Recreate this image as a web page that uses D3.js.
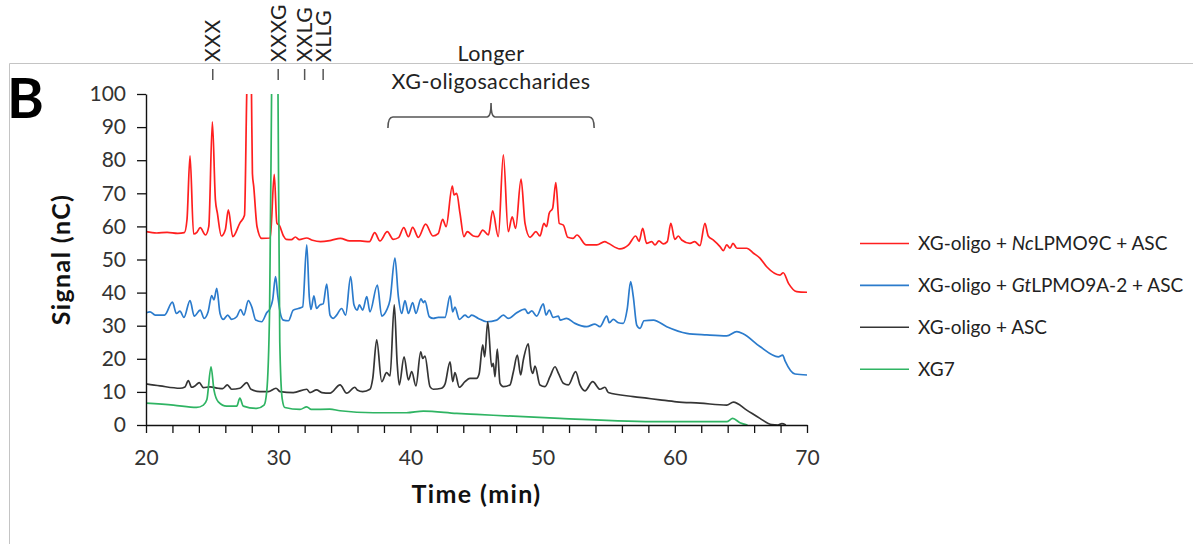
<!DOCTYPE html>
<html>
<head>
<meta charset="utf-8">
<script src="https://cdn.jsdelivr.net/npm/d3@7"></script>
<style>
  html, body { margin: 0; padding: 0; background: #fff; }
  svg { display: block; }
  text { font-family: Lato, "Open Sans", sans-serif; }
</style>
</head>
<body>
<svg id="chart" width="1193" height="544"></svg>
<script>
// HPAEC-PAD traces, [time (min), signal (nC)]
const ncLPMO9C = [
  [20.0,58.4],[20.8,58.0],[21.6,58.2],[22.4,57.9],[22.9,58.1],[23.1,62],[23.33,81.3],[23.6,57.7],[23.85,58.2],
  [24.1,59.6],[24.5,57.4],[24.75,60],[25.02,91.6],[25.25,68],[25.4,64],[25.7,57.1],[26.0,59],[26.23,65],
  [26.56,56.9],[27.1,61],[27.45,63.4],[27.62,100],[27.8,130],[27.98,100],[28.05,76],[28.15,72],[28.4,59.9],
  [28.75,56.4],[29.4,56.5],[29.7,75.7],[29.9,61],[30.1,60.2],[30.4,57.1],[30.6,56.1],[31.0,56.0],[31.3,56.8],
  [31.6,56.0],[32.15,56.5],[32.6,55.8],[33.2,55.4],[34.0,55.8],[34.7,56.4],[35.4,55.6],[36.2,55.6],[36.9,55.4],
  [37.3,58.1],[37.7,55.6],[38.25,58.4],[38.7,56.1],[39.1,56.6],[39.5,59.6],[39.85,56.9],[40.17,59.7],[40.6,56.7],
  [41.15,60.7],[41.7,57.1],[42.1,57.8],[42.44,62.1],[42.7,59.9],[43.17,72.2],[43.3,69.5],[43.5,70],[43.75,64],
  [44.05,56.9],[44.3,58.4],[44.76,57.1],[45.1,56.9],[45.47,58.9],[45.9,57.4],[46.22,64.7],[46.65,56.9],
  [47.03,81.6],[47.4,58.4],[47.7,62.9],[47.96,59.4],[48.37,74.3],[48.67,60.9],[49.05,56.7],[49.5,58.4],
  [49.8,57.1],[50.1,60.9],[50.3,59.9],[50.5,64],[50.76,65.5],[51.0,73.2],[51.26,60.9],[51.57,60.4],[51.9,56.7],
  [52.3,56.4],[52.6,57.4],[53.3,54.4],[54.1,54.4],[54.7,55.4],[54.97,54.9],[55.85,53.2],[56.5,54.4],[57.04,57.1],
  [57.3,55.5],[57.57,59.4],[57.87,54.9],[58.25,55.4],[58.5,54.4],[58.8,55.6],[59.13,54.7],[59.43,55.4],
  [59.7,60.9],[60.0,56.1],[60.27,57.1],[60.52,55.9],[61.15,54.9],[61.5,55.4],[61.9,54.2],[62.28,60.9],
  [62.53,57.1],[62.9,55.9],[63.42,53.9],[63.67,52.7],[63.93,54.4],[64.18,53.4],[64.4,54.9],[64.7,53.4],
  [65.44,53.4],[65.95,51.9],[66.44,50.4],[66.95,47.8],[67.96,45.3],[68.2,46.0],[68.6,42.8],[69.22,40.3],[70.0,40.1]
];

const gtLPMO9A2 = [
  [20.0,33.9],[20.3,34.2],[20.7,33.2],[21.4,33.2],[22.0,37.1],[22.3,33.7],[22.57,34.4],[22.87,32.5],[23.33,37.6],
  [23.65,32.9],[24.1,34.7],[24.4,32.2],[24.7,34.2],[24.97,39.1],[25.14,37.8],[25.35,41.3],[25.6,33.7],[25.85,31.9],
  [26.18,33.2],[26.48,31.9],[26.86,32.7],[27.16,34.9],[27.4,33.2],[27.74,37.6],[28.0,35.7],[28.3,31.7],[28.75,31.2],
  [29.13,33.9],[29.38,35.2],[29.58,37.8],[29.8,44.8],[29.96,39.3],[30.14,34.2],[30.39,31.7],[30.77,31.5],
  [31.14,34.7],[31.52,35.2],[31.85,35.7],[32.16,54.4],[32.35,38.8],[32.48,34.9],[32.7,39.0],[32.9,35.2],
  [33.16,36.3],[33.4,36.6],[33.67,42.6],[33.92,33.2],[34.17,32.2],[34.42,33.2],[34.8,35.2],[35.1,33.2],
  [35.48,44.8],[35.73,36.3],[35.98,34.7],[36.14,36.3],[36.39,34.7],[36.7,38.8],[36.94,34.2],[37.5,42.3],
  [37.83,32.9],[38.2,34.7],[38.46,37.8],[38.83,50.4],[39.09,38.8],[39.34,33.7],[39.59,37.6],[39.85,33.7],
  [40.17,37.0],[40.42,33.7],[40.8,38.1],[40.98,37.0],[41.1,37.5],[41.43,32.7],[41.73,32.2],[42.1,32.5],
  [42.62,32.5],[43.0,39.0],[43.2,34.2],[43.37,35.6],[43.7,31.9],[44.13,33.2],[44.4,32.5],[44.64,33.2],
  [45.14,32.2],[45.77,31.2],[46.53,31.7],[47.03,33.2],[47.4,32.2],[48.04,33.9],[48.67,35.0],[48.9,33.7],
  [49.18,34.5],[49.55,32.9],[50.05,36.6],[50.26,33.2],[50.5,34.7],[50.8,32.5],[51.2,32.9],[51.32,31.7],
  [51.82,32.2],[52.45,30.7],[53.33,29.7],[53.96,30.5],[54.34,29.7],[54.85,32.9],[55.05,30.9],[55.35,31.9],
  [55.73,30.9],[56.1,30.7],[56.4,35],[56.66,43.3],[56.86,38.8],[57.12,30.2],[57.37,29.2],[57.67,31.5],
  [58.38,31.7],[59.39,29.7],[60.9,27.7],[62.41,27.2],[63.93,26.9],[64.69,28.2],[65.2,27.5],[66.44,23.7],
  [67.83,20.6],[68.16,21.1],[68.34,19.4],[69.1,15.4],[70.0,15.1]
];

const oligoASC = [
  [20.0,12.4],[21.06,11.8],[22.57,11.1],[22.95,11.5],[23.2,13.4],[23.45,11.4],[23.7,11.8],[24.03,12.8],
  [24.34,11.3],[24.84,11.5],[25.47,11.1],[25.8,11.0],[26.15,12.1],[26.48,10.8],[27.1,11.1],[27.62,12.8],
  [27.94,10.8],[28.62,10.1],[29.25,10.1],[29.83,11.1],[30.14,10.1],[31.14,9.8],[32.16,10.8],[32.4,9.8],
  [32.9,10.6],[33.3,9.8],[33.92,9.6],[34.68,12.1],[35.18,9.6],[35.8,11.4],[35.98,10.6],[36.39,10.1],
  [36.94,10.8],[37.15,14],[37.45,25.7],[37.83,13.1],[38.2,15.8],[38.46,14.8],[38.78,36.3],[39.0,18.6],
  [39.16,12.1],[39.52,20.6],[39.85,13.6],[40.1,16.1],[40.42,11.8],[40.78,22.1],[40.93,20.1],[41.1,20.8],
  [41.48,11.6],[41.73,10.8],[42.36,11.1],[42.62,12.4],[43.0,19.1],[43.2,13.1],[43.37,15.8],[43.7,11.4],
  [44.13,13.1],[44.5,14.1],[45.0,14.1],[45.2,15.5],[45.47,24.2],[45.62,20.6],[45.85,31.2],[46.15,17.6],
  [46.27,18.6],[46.4,14.6],[46.57,22.9],[46.78,12.6],[47.03,11.6],[47.53,12.1],[47.79,16.1],[48.09,21.1],
  [48.34,15.1],[48.54,19.6],[48.92,24.5],[49.1,17.6],[49.25,15.6],[49.43,17.8],[49.8,12.1],[50.18,11.6],
  [50.56,14.6],[50.94,17.6],[51.2,15.6],[51.57,12.6],[51.95,12.1],[52.5,16.1],[52.83,12.1],[53.2,10.3],
  [53.79,13.1],[54.34,10.8],[54.72,11.4],[54.97,9.8],[56.86,8.6],[57.87,8.1],[58.88,7.6],[60.14,7.0],
  [61.9,6.6],[63.93,6.0],[64.43,6.9],[65.44,4.5],[66.44,2.0],[67.33,0.1],[67.8,0],[68.1,0.4],[68.4,0]
];

const xg7 = [
  [20.0,6.6],[22.07,6.0],[23.83,5.3],[24.34,6.0],[24.6,7.6],[24.92,17.6],[25.14,10.6],[25.47,7.0],[26.1,5.7],
  [26.86,5.7],[27.1,8.1],[27.36,5.7],[28.37,5.0],[28.93,6.0],[29.13,10],[29.35,35],[29.52,110],[29.75,200],
  [29.97,110],[30.12,25],[30.3,8],[30.5,5.3],[31.65,4.7],[32.16,5.5],[32.5,4.7],[33.9,4.8],[34.68,4.3],
  [37.2,3.7],[39.7,3.7],[40.98,4.2],[43.5,3.5],[45.0,3.2],[51.3,2.0],[58.9,1.0],[63.93,1.0],[64.38,2.0],
  [64.93,0.7],[65.5,0]
];

// Legend labels as [text, italic] runs
const seriesLabels = [
  [["XG-oligo + ", false], ["Nc", true], ["LPMO9C + ASC", false]],
  [["XG-oligo + ", false], ["Gt", true], ["LPMO9A-2 + ASC", false]],
  [["XG-oligo + ASC", false]],
  [["XG7", false]]
];
const seriesColors = ["#ff1f1f", "#2b7bcc", "#353535", "#2fb463"];
const seriesData = [ncLPMO9C, gtLPMO9A2, oligoASC, xg7];

// Axis ticks
const xTicks = d3.range(20, 71, 2);
const xLabelled = [20, 30, 40, 50, 60, 70];
const yTicks = d3.range(0, 101, 10);

// Product annotations: name and elution time (min)
const productNames = ["XXX", "XXXG", "XXLG", "XLLG"];
const productTimes = [25.05, 30.0, 32.0, 33.4];
const longerRange = [38.3, 53.9];

const svg = d3.select("#chart");
const W = 1193, H = 544;
const m = { left: 146, right: 807, top: 94, bottom: 425 };

svg.append("rect").attr("width", W).attr("height", H).attr("fill", "#fff");

// outer frame (top and left edges)
svg.append("path")
  .attr("d", `M9.5,${H}V63.5H${W}`)
  .attr("fill", "none").attr("stroke", "#c4c4c4").attr("stroke-width", 1);

const x = d3.scaleLinear().domain([20, 70]).range([m.left, m.right]);
const y = d3.scaleLinear().domain([0, 100]).range([m.bottom, m.top]);

svg.append("defs").append("clipPath").attr("id", "plotClip")
  .append("rect")
  .attr("x", m.left).attr("y", m.top)
  .attr("width", m.right - m.left + 2).attr("height", m.bottom - m.top + 2);

// traces
const line = d3.line().x(d => x(d[0])).y(d => y(d[1])).curve(d3.curveMonotoneX);
const traces = svg.append("g").attr("clip-path", "url(#plotClip)");
seriesData.forEach((s, i) => {
  traces.append("path")
    .attr("d", line(s))
    .attr("fill", "none")
    .attr("stroke", seriesColors[i])
    .attr("stroke-width", 1.7)
    .attr("stroke-linejoin", "round");
});

// axes
const xAxis = d3.axisBottom(x)
  .tickValues(xTicks)
  .tickFormat(d => xLabelled.includes(d) ? d : "")
  .tickSize(8).tickSizeOuter(0).tickPadding(17);
const gx = svg.append("g").attr("transform", `translate(0,${m.bottom})`).call(xAxis);

const yAxis = d3.axisLeft(y).tickValues(yTicks).tickSize(9).tickSizeOuter(0).tickPadding(11);
const gy = svg.append("g").attr("transform", `translate(${m.left},0)`).call(yAxis);

[gx, gy].forEach(g => {
  g.select(".domain").attr("stroke", "#111").attr("stroke-width", 1.4);
  g.selectAll(".tick line").attr("stroke", "#111").attr("stroke-width", 1.3);
  g.selectAll(".tick text")
    .attr("font-family", "Lato, 'Open Sans', sans-serif")
    .attr("font-size", 21).attr("fill", "#333");
});

// axis titles
svg.append("text")
  .attr("x", (m.left + m.right) / 2).attr("y", 503)
  .attr("text-anchor", "middle")
  .attr("font-size", 25).attr("font-weight", 700).attr("letter-spacing", 1.4).attr("fill", "#111")
  .text("Time (min)");

svg.append("text")
  .attr("transform", `translate(70,${(m.top + m.bottom) / 2}) rotate(-90)`)
  .attr("text-anchor", "middle")
  .attr("font-size", 25).attr("font-weight", 700).attr("letter-spacing", 1.4).attr("fill", "#111")
  .text("Signal (nC)");

// panel letter
svg.append("text")
  .attr("x", 7).attr("y", 118)
  .attr("font-size", 56).attr("font-weight", 700).attr("fill", "#000")
  .text("B");

// product annotations above the plot
productNames.forEach((name, i) => {
  const px = x(productTimes[i]);
  svg.append("line")
    .attr("x1", px).attr("x2", px).attr("y1", 69).attr("y2", 80)
    .attr("stroke", "#555").attr("stroke-width", 1.5);
  svg.append("text")
    .attr("transform", `translate(${px + 7.5},62) rotate(-90)`)
    .attr("font-size", 21).attr("letter-spacing", 0.6).attr("fill", "#222")
    .text(name);
});

// bracket over the longer oligosaccharides
const bx0 = x(longerRange[0]), bx1 = x(longerRange[1]), bxm = (bx0 + bx1) / 2;
svg.append("path")
  .attr("d", `M${bx0},128 Q${bx0},117 ${bx0 + 5},117 H${bxm - 4} Q${bxm},117 ${bxm},103 Q${bxm},117 ${bxm + 4},117 H${bx1 - 5} Q${bx1},117 ${bx1},128`)
  .attr("fill", "none").attr("stroke", "#555").attr("stroke-width", 1.6);

svg.append("text")
  .attr("x", bxm).attr("y", 61).attr("text-anchor", "middle")
  .attr("font-size", 21.5).attr("letter-spacing", 0.4).attr("fill", "#222").text("Longer");
svg.append("text")
  .attr("x", bxm).attr("y", 89).attr("text-anchor", "middle")
  .attr("font-size", 21.5).attr("letter-spacing", 0.4).attr("fill", "#222").text("XG-oligosaccharides");

// legend
const legend = svg.append("g");
seriesLabels.forEach((runs, i) => {
  const ly = 243.5 + i * 41.9;
  legend.append("line")
    .attr("x1", 860).attr("x2", 909).attr("y1", ly).attr("y2", ly)
    .attr("stroke", seriesColors[i]).attr("stroke-width", 1.6);
  const t = legend.append("text")
    .attr("x", 918).attr("y", ly + 6.5)
    .attr("font-size", 19).attr("fill", "#222");
  runs.forEach(([str, it]) => {
    t.append("tspan").attr("font-style", it ? "italic" : "normal").text(str);
  });
});
</script>
</body>
</html>
